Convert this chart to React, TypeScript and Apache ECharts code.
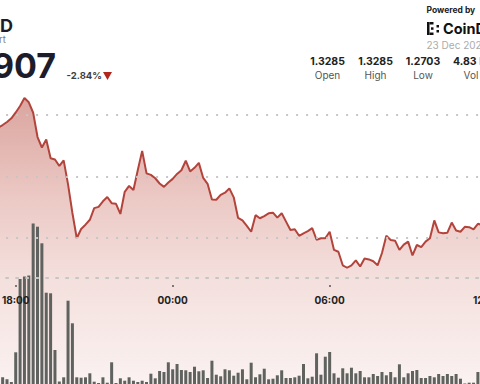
import React, { useEffect, useRef } from "react";
import * as echarts from "echarts";

// 10-minute slots starting 17:20
const START_MINUTES = 17 * 60 + 20;
const STEP_MINUTES = 10;

const prices = [
  1.3159, 1.3167, 1.3177, 1.3189, 1.3208, 1.3229, 1.3255, 1.3241, 1.3207, 1.3128,
  1.3094, 1.312, 1.3059, 1.3055, 1.3034, 1.3052, 1.2974, 1.2881, 1.2799, 1.2829,
  1.2843, 1.2859, 1.2897, 1.2901, 1.2919, 1.2933, 1.2913, 1.2911, 1.2878, 1.295,
  1.2969, 1.2956, 1.3021, 1.3083, 1.301, 1.3005, 1.2994, 1.2977, 1.2966, 1.298,
  1.2992, 1.3008, 1.302, 1.3051, 1.3016, 1.3028, 1.3044, 1.2995, 1.2976, 1.2925,
  1.2924, 1.294, 1.2947, 1.2961, 1.2932, 1.2865, 1.2857, 1.2839, 1.282, 1.2874,
  1.2864, 1.2871, 1.288, 1.2882, 1.2866, 1.288, 1.2853, 1.2826, 1.2828, 1.2807,
  1.2815, 1.2822, 1.2832, 1.2794, 1.2799, 1.2799, 1.282, 1.2761, 1.2755, 1.2711,
  1.2703, 1.2711, 1.2727, 1.2707, 1.2733, 1.273, 1.2724, 1.2711, 1.2751, 1.2807,
  1.2793, 1.2791, 1.2761, 1.2778, 1.2788, 1.2743, 1.2777, 1.277, 1.2788, 1.2799,
  1.2857, 1.2818, 1.2815, 1.2817, 1.285, 1.2824, 1.282, 1.2836, 1.2835, 1.2828,
  1.2846, 1.2842, 1.2846,
];

const volumeK = [
  5, 6.7, 4.7, 2, 31.7, 105, 107.5, 108.5, 160.5, 157.3,
  140.7, 91.3, 90.7, 34, 2.5, 6.7, 83.3, 60.7, 6.7, 6.3,
  6.7, 10.7, 2.3, 1, 6.7, 1.3, 21.7, 1, 5.7, 3.3,
  6.7, 3.3, 2, 3.3, 2, 10.3, 5.7, 13, 12, 21.7,
  14.7, 20, 14, 13.7, 12, 17.3, 12.7, 13.7, 6, 23.3,
  9.3, 7.7, 14.7, 13.7, 8.3, 11.3, 14.7, 4.7, 21.3, 6.7,
  9.7, 15.3, 4.7, 5.3, 8.7, 13.7, 6, 6, 6.7, 8.3,
  20, 5.7, 7.3, 30.7, 9.3, 27.3, 32, 10.7, 6.3, 15.7,
  10.7, 16.3, 10.7, 13, 6.7, 6.7, 10, 8, 12, 8.7,
  12, 6.7, 19.7, 6.7, 10.7, 13, 14, 6, 6, 8,
  6.7, 10, 8, 10, 8, 10, 5.3, 0.5, 1.3, 1.3,
  12, 19, 8,
];

const times = prices.map((_, i) => {
  const m = (START_MINUTES + i * STEP_MINUTES) % 1440;
  return `${String(Math.floor(m / 60)).padStart(2, "0")}:${String(m % 60).padStart(2, "0")}`;
});

const tickLabels = ["18:00", "00:00", "06:00", "12:00"];
const priceLevels = [1.32, 1.3, 1.28];

const statValues = ["1.3285", "1.3285", "1.2703", "4.83 M"];
const statLabels = ["Open", "High", "Low", "Vol"];

const titleText = "D";
const subtitleText = "rt";
const priceText = "907";
const changeText = "-2.84%";
const poweredText = "Powered by";
const brandText = "CoinD";
const dateText = "23 Dec 2025";

const FONT = "Inter, 'Open Sans', sans-serif";

export default function App() {
  const ref = useRef<HTMLDivElement>(null);

  useEffect(() => {
    if (!ref.current) return;
    const chart = echarts.init(ref.current, undefined, { renderer: "svg" });
    const GL = -3.9;
    const GR = -8.8;
    const isTick = (_i: number, v: string) => tickLabels.includes(v);

    const statX = [327.5, 375.5, 423, 471];

    const graphic: any[] = [
      { type: "text", x: 0, y: 25, style: { text: titleText, fill: "#1c1c2a", fontSize: 18, fontWeight: "bold", fontFamily: FONT, textAlign: "left", verticalAlign: "middle" } },
      { type: "text", x: -1, y: 39.5, style: { text: subtitleText, fill: "#7a7a7a", fontSize: 9.5, fontFamily: FONT, textAlign: "left", verticalAlign: "middle" } },
      { type: "text", x: 56, y: 65.5, style: { text: priceText, fill: "#1c1c2a", fontSize: 34, fontWeight: "bold", fontFamily: FONT, textAlign: "right", verticalAlign: "middle" } },
      { type: "text", x: 66.5, y: 75, style: { text: changeText, fill: "#3d3d3d", fontSize: 9.5, fontWeight: "bold", fontFamily: FONT, textAlign: "left", verticalAlign: "middle" } },
      { type: "polygon", shape: { points: [[103, 72], [112, 72], [107.5, 80]] }, style: { fill: "#b3261e" } },
      { type: "text", x: 426.5, y: 10.3, style: { text: poweredText, fill: "#222", fontSize: 8.5, fontWeight: "bold", fontFamily: FONT, textAlign: "left", verticalAlign: "middle" } },
      { type: "rect", shape: { x: 427, y: 22, width: 2.5, height: 13 }, style: { fill: "#111" } },
      { type: "rect", shape: { x: 429.5, y: 22, width: 4, height: 2.5 }, style: { fill: "#111" } },
      { type: "rect", shape: { x: 429.5, y: 32.5, width: 4, height: 2.5 }, style: { fill: "#111" } },
      { type: "rect", shape: { x: 431, y: 27.3, width: 2.5, height: 2.5 }, style: { fill: "#111" } },
      { type: "rect", shape: { x: 436.5, y: 25, width: 2.5, height: 2.5 }, style: { fill: "#111" } },
      { type: "rect", shape: { x: 436.5, y: 30, width: 2.5, height: 2.5 }, style: { fill: "#111" } },
      { type: "text", x: 443, y: 28.5, style: { text: brandText, fill: "#111", fontSize: 14.5, fontWeight: "bold", fontFamily: FONT, textAlign: "left", verticalAlign: "middle" } },
      { type: "text", x: 426.5, y: 44.5, style: { text: dateText, fill: "#ababab", fontSize: 10, fontFamily: FONT, textAlign: "left", verticalAlign: "middle" } },
    ];
    statValues.forEach((v, i) => {
      graphic.push({ type: "text", x: statX[i], y: 61.5, style: { text: v, fill: "#222", fontSize: 10.5, fontWeight: "bold", fontFamily: FONT, textAlign: "center", verticalAlign: "middle" } });
      graphic.push({ type: "text", x: statX[i], y: 75, style: { text: statLabels[i], fill: "#555", fontSize: 10, fontFamily: FONT, textAlign: "center", verticalAlign: "middle" } });
    });

    const option: any = {
      animation: false,
      backgroundColor: "#ffffff",
      grid: [
        { left: GL, right: GR, top: 53.4, bottom: 0, outerBoundsMode: "none", containLabel: false },
        { left: GL, right: GR, top: 53.4, bottom: 106, outerBoundsMode: "none", containLabel: false },
        { left: GL, right: GR, top: 184, bottom: 0, outerBoundsMode: "none", containLabel: false },
      ],
      xAxis: [
        { type: "category", gridIndex: 0, data: times, boundaryGap: true, show: false },
        {
          type: "category",
          gridIndex: 1,
          data: times,
          boundaryGap: true,
          z: 10,
          axisLine: { show: true, lineStyle: { color: "#c6c6c6", width: 2, type: [2, 8] } },
          axisTick: { show: true, alignWithLabel: true, interval: isTick, length: 9, lineStyle: { color: "#555", width: 1.5, type: [0, 7, 2, 10] } },
          axisLabel: { interval: isTick, margin: 17, color: "#222222", fontWeight: 700, fontSize: 10, fontFamily: FONT, hideOverlap: false },
          splitLine: { show: false },
        },
        { type: "category", gridIndex: 2, data: times, boundaryGap: true, show: false },
      ],
      yAxis: [
        { type: "value", gridIndex: 0, min: 1.2325, max: 1.34, show: false, splitLine: { show: false } },
        { type: "value", gridIndex: 1, min: 0, max: 1, show: false, splitLine: { show: false } },
        { type: "value", gridIndex: 2, min: 0, max: 200, show: false, splitLine: { show: false } },
      ],
      series: [
        {
          type: "line",
          xAxisIndex: 0,
          yAxisIndex: 0,
          data: prices,
          symbol: "none",
          z: 2,
          lineStyle: { color: "#b3443c", width: 2 },
          areaStyle: {
            origin: "start",
            color: {
              type: "linear",
              x: 0, y: 0, x2: 0, y2: 1,
              colorStops: [
                { offset: 0, color: "#cc7e76" },
                { offset: 0.35, color: "#e3b2ac" },
                { offset: 0.63, color: "#efd2ce" },
                { offset: 1, color: "#f8eceb" },
              ],
            },
          },
          markLine: {
            silent: true,
            symbol: "none",
            label: { show: false },
            emphasis: { disabled: true },
            lineStyle: { color: "#c6c6c6", width: 2, type: [2, 8] },
            data: priceLevels.map((v) => ({ yAxis: v })),
          },
        },
        {
          type: "bar",
          xAxisIndex: 2,
          yAxisIndex: 2,
          data: volumeK,
          barWidth: 3,
          z: 3,
          itemStyle: { color: "#5f625e" },
        },
      ],
      graphic,
    };
    chart.setOption(option);
    return () => chart.dispose();
  }, []);

  return (
    <div
      ref={ref}
      style={{ position: "fixed", left: 0, top: 0, width: 480, height: 384, overflow: "hidden" }}
    />
  );
}
